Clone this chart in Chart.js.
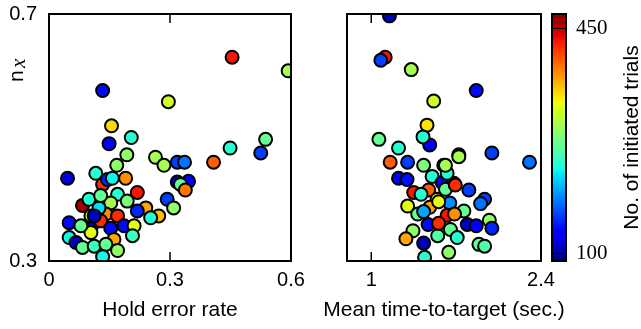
<!DOCTYPE html>
<html>
<head>
<meta charset="utf-8">
<script src="https://cdn.jsdelivr.net/npm/chart.js@4.4.1/dist/chart.umd.min.js"></script>
<style>
    body { margin: 0; background: #fff; width: 641px; height: 329px; position: relative; overflow: hidden; }
    canvas { position: absolute; top: 0; }
</style>
</head>
<body>
<canvas id="hold-chart" width="320" height="329" style="left:0"></canvas>
<canvas id="time-chart" width="300" height="329" style="left:300px"></canvas>
<canvas id="colorbar" width="96" height="329" style="left:545px"></canvas>
<script>
// left panel: hold error rate vs n_x
const holdError = [0.454, 0.593, 0.133, 0.296, 0.155, 0.149, 0.204, 0.193, 0.264, 0.285, 0.318, 0.336, 0.408, 0.449, 0.537, 0.525,
    0.046, 0.116, 0.133, 0.145, 0.157, 0.190, 0.168, 0.318, 0.346, 0.326, 0.338, 0.293, 0.309, 0.219, 0.170,
    0.083, 0.153, 0.194, 0.240, 0.219, 0.272, 0.252, 0.141, 0.170, 0.050, 0.112, 0.128, 0.153, 0.186, 0.211,
    0.207, 0.104, 0.161, 0.050, 0.067, 0.083, 0.112, 0.141, 0.170, 0.133, 0.079, 0.124, 0.104, 0.112, 0.099, 0.128];
const nxHold = [0.630, 0.608, 0.576, 0.558, 0.519, 0.490, 0.500, 0.472, 0.468, 0.455, 0.460, 0.460, 0.460, 0.483, 0.497, 0.475,
    0.434, 0.442, 0.424, 0.432, 0.434, 0.434, 0.455, 0.428, 0.429, 0.424, 0.415, 0.400, 0.386, 0.411, 0.408,
    0.390, 0.394, 0.397, 0.386, 0.381, 0.373, 0.370, 0.376, 0.373, 0.362, 0.362, 0.365, 0.353, 0.357, 0.357,
    0.341, 0.346, 0.335, 0.338, 0.330, 0.322, 0.324, 0.327, 0.317, 0.307, 0.357, 0.386, 0.373, 0.373, 0.400, 0.406];
const trialsHold = [430, 300, 140, 320, 350, 130, 240, 290, 300, 300, 160, 180, 400, 240, 270, 160,
    120, 240, 420, 150, 230, 380, 290, 110, 130, 270, 390, 160, 290, 430, 240,
    460, 300, 280, 370, 150, 360, 240, 380, 420, 140, 110, 420, 140, 140, 330,
    250, 330, 370, 230, 110, 270, 250, 270, 290, 230, 270, 220, 320, 110, 240, 270];

// right panel: mean time-to-target vs n_x
const timeToTarget = [1.150, 1.115, 1.079, 1.330, 1.866, 1.515, 1.460, 1.482, 1.427, 1.063, 1.225, 1.156, 1.300, 1.995, 2.305,
    1.722, 1.722, 1.432, 1.598, 1.502, 1.225, 1.295, 1.585, 1.681, 1.350, 1.474, 1.411, 1.805, 1.612, 1.300,
    1.543, 1.935, 1.902, 1.648, 1.764, 1.482, 1.383, 1.626, 1.687, 1.974, 1.469, 1.792, 1.866, 1.995, 1.653,
    1.344, 1.548, 1.709, 1.286, 1.432, 1.888, 1.935, 1.639, 1.440, 1.626, 1.693, 1.556, 1.432, 1.556, 1.612];
const nxTime = [0.697, 0.630, 0.625, 0.610, 0.576, 0.559, 0.520, 0.488, 0.501, 0.497, 0.483, 0.460, 0.460, 0.475, 0.460,
    0.472, 0.469, 0.455, 0.455, 0.437, 0.434, 0.432, 0.427, 0.426, 0.411, 0.415, 0.408, 0.415, 0.416, 0.389,
    0.400, 0.400, 0.393, 0.394, 0.381, 0.387, 0.376, 0.374, 0.376, 0.366, 0.359, 0.359, 0.357, 0.353, 0.351,
    0.349, 0.341, 0.338, 0.336, 0.329, 0.327, 0.324, 0.314, 0.306, 0.442, 0.423, 0.396, 0.380, 0.361, 0.455];
const trialsTime = [110, 430, 160, 300, 140, 320, 345, 130, 240, 270, 240, 400, 160, 160, 180,
    110, 300, 280, 300, 240, 130, 140, 130, 430, 430, 400, 240, 160, 270, 330,
    330, 160, 180, 190, 270, 370, 270, 430, 380, 290, 140, 110, 130, 150, 270,
    290, 260, 240, 370, 110, 270, 260, 290, 240, 240, 420, 330, 200, 420, 300];

const holdTicks = [0, 0.3, 0.6];
const timeTicks = [1, 2.4];
const nxTicks = [0.3, 0.7];
const trialTicks = [100, 450];
const trialsMin = 89;
const trialsMax = 472;

// matplotlib "jet"
const JET = {
    r: [[0, 0], [0.35, 0], [0.66, 1], [0.89, 1], [1, 0.5]],
    g: [[0, 0], [0.125, 0], [0.375, 1], [0.64, 1], [0.91, 0], [1, 0]],
    b: [[0, 0.5], [0.11, 1], [0.34, 1], [0.65, 0], [1, 0]]
};

function interp(stops, t) {
    for (let i = 1; i < stops.length; i++) {
        if (t <= stops[i][0]) {
            const [t0, v0] = stops[i - 1];
            const [t1, v1] = stops[i];
            return v0 + (v1 - v0) * (t - t0) / (t1 - t0);
        }
    }
    return stops[stops.length - 1][1];
}

function jet(t) {
    t = Math.min(1, Math.max(0, t));
    const c = k => Math.round(255 * interp(JET[k], t));
    return `rgb(${c('r')},${c('g')},${c('b')})`;
}

function trialColor(v) {
    return jet((v - trialsMin) / (trialsMax - trialsMin));
}

const tickFont = {family: 'Liberation Sans', size: 20};

// frame, inward x ticks and the x title (drawn here so it is not squeezed to the axis width)
const panelFrame = {
    id: 'panelFrame',
    afterDatasetsDraw(chart, args, opts) {
        const {ctx, chartArea: a, scales} = chart;
        ctx.save();
        ctx.strokeStyle = '#000';
        if (scales.x && scales.x.options.display !== false) {
            ctx.lineWidth = 1.5;
            ctx.beginPath();
            scales.x.ticks.forEach(t => {
                const px = scales.x.getPixelForValue(t.value);
                ctx.moveTo(px, a.top);
                ctx.lineTo(px, a.top + 9);
                ctx.moveTo(px, a.bottom);
                ctx.lineTo(px, a.bottom - 9);
            });
            ctx.stroke();
        }
        ctx.lineWidth = 2;
        ctx.strokeRect(a.left, a.top, a.width, a.height);
        if (opts.title) {
            ctx.fillStyle = '#000';
            ctx.font = '21px "Liberation Sans"';
            ctx.textAlign = 'center';
            ctx.textBaseline = 'middle';
            ctx.fillText(opts.title, (a.left + a.right) / 2, 310);
        }
        ctx.restore();
    }
};

const nxLabel = {
    id: 'nxLabel',
    afterDraw(chart, args, opts) {
        if (!opts.show) return;
        const ctx = chart.ctx;
        ctx.save();
        ctx.translate(23, 82);
        ctx.rotate(-Math.PI / 2);
        ctx.fillStyle = '#000';
        ctx.textBaseline = 'alphabetic';
        ctx.textAlign = 'left';
        ctx.font = '21px "Liberation Sans"';
        ctx.fillText('n', 0, 0);
        ctx.font = 'italic 21px "Liberation Serif"';
        ctx.fillText('x', 14, 2);
        ctx.restore();
    }
};

function makeScatter(id, xs, ys, trials, xMin, xMax, xTicks, showY, yWidth, padding) {
    const points = xs.map((x, i) => ({x: x, y: ys[i]}));
    return new Chart(document.getElementById(id), {
        type: 'scatter',
        data: {
            datasets: [{
                data: points,
                backgroundColor: trials.map(trialColor),
                borderColor: '#000',
                borderWidth: 2,
                pointRadius: 6.5,
                pointHoverRadius: 6.5,
                clip: 0
            }]
        },
        options: {
            responsive: false,
            animation: false,
            layout: {padding: padding},
            plugins: {
                legend: {display: false},
                tooltip: {enabled: false},
                nxLabel: {show: showY}
            },
            scales: {
                x: {
                    type: 'linear',
                    min: xMin,
                    max: xMax,
                    afterBuildTicks: s => { s.ticks = xTicks.map(v => ({value: v})); },
                    afterFit: s => { s.height = 68; s.paddingLeft = 0; s.paddingRight = 0; },
                    ticks: {font: tickFont, color: '#000', padding: 7, maxRotation: 0, autoSkip: false, callback: v => String(v)},
                    grid: {display: false, drawTicks: false},
                    border: {display: false}
                },
                y: {
                    display: showY,
                    min: 0.3,
                    max: 0.7,
                    afterBuildTicks: s => { s.ticks = nxTicks.map(v => ({value: v})); },
                    afterFit: s => { s.width = yWidth; s.paddingTop = 0; s.paddingBottom = 0; },
                    ticks: {font: tickFont, color: '#000', padding: 12, callback: v => String(v)},
                    grid: {display: false, drawTicks: false},
                    border: {display: false}
                }
            }
        },
        plugins: [panelFrame, nxLabel]
    });
}

const holdChart = makeScatter('hold-chart', holdError, nxHold, trialsHold, 0, 0.6, holdTicks,
    true, 49, {top: 14, right: 29, left: 0, bottom: 0});
holdChart.options.plugins.panelFrame = {title: 'Hold error rate'};
holdChart.update();

const timeChart = makeScatter('time-chart', timeToTarget, nxTime, trialsTime, 0.8, 2.4, timeTicks,
    false, 47, {top: 14, right: 59, left: 0, bottom: 0});
timeChart.options.plugins.panelFrame = {title: 'Mean time-to-target (sec.)'};
timeChart.update();

const colorbarLabel = {
    id: 'colorbarLabel',
    afterDraw(chart) {
        const {ctx, chartArea: a} = chart;
        ctx.save();
        ctx.translate(93, (a.top + a.bottom) / 2);
        ctx.rotate(-Math.PI / 2);
        ctx.fillStyle = '#000';
        ctx.font = '21px "Liberation Sans"';
        ctx.textAlign = 'center';
        ctx.textBaseline = 'alphabetic';
        ctx.fillText('No. of initiated trials', 0, 0);
        ctx.restore();
    }
};

new Chart(document.getElementById('colorbar'), {
    type: 'bar',
    data: {
        labels: [''],
        datasets: [{
            data: [[trialsMin, trialsMax]],
            backgroundColor: ctx => {
                const chart = ctx.chart;
                if (!chart.chartArea) return null;
                const y = chart.scales.y;
                const g = chart.ctx.createLinearGradient(0, y.getPixelForValue(trialsMin), 0, y.getPixelForValue(trialsMax));
                for (let i = 0; i <= 100; i++) g.addColorStop(i / 100, jet(i / 100));
                return g;
            },
            borderWidth: 0,
            barPercentage: 1,
            categoryPercentage: 1
        }]
    },
    options: {
        responsive: false,
        animation: false,
        layout: {padding: {top: 14, left: 7, right: 0, bottom: 68}},
        plugins: {legend: {display: false}, tooltip: {enabled: false}},
        scales: {
            x: {display: false},
            y: {
                position: 'right',
                min: trialsMin,
                max: trialsMax,
                afterBuildTicks: s => { s.ticks = trialTicks.map(v => ({value: v})); },
                afterFit: s => { s.width = 75; s.paddingTop = 0; s.paddingBottom = 0; },
                ticks: {font: {family: 'Liberation Serif', size: 21}, color: '#000', padding: 10},
                grid: {drawTicks: false, color: '#000', lineWidth: 1, z: 1},
                border: {display: false}
            }
        }
    },
    plugins: [panelFrame, colorbarLabel]
});
</script>
</body>
</html>
